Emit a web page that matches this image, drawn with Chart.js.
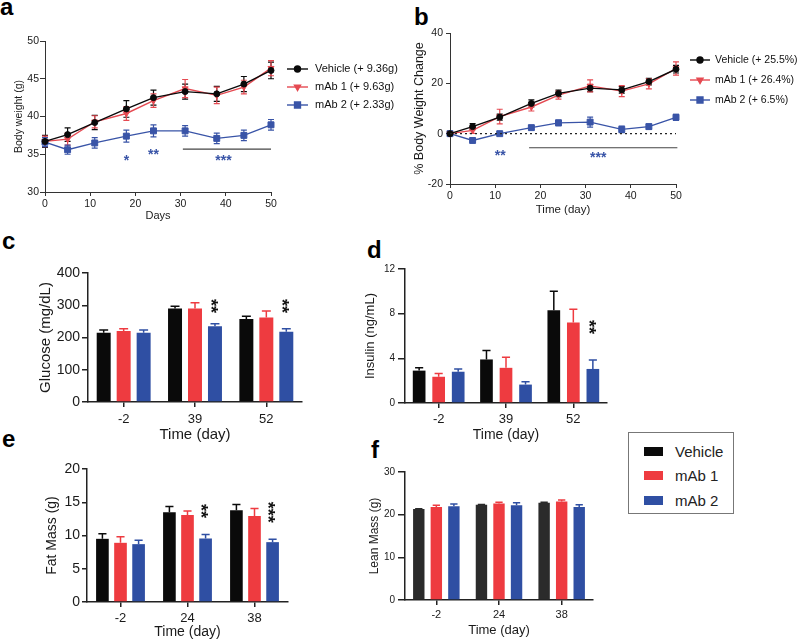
<!DOCTYPE html>
<html>
<head>
<meta charset="utf-8">
<script src="https://cdn.jsdelivr.net/npm/chart.js@4.4.1/dist/chart.umd.min.js"></script>
<style>
  body { margin: 0; background: #fff; width: 800px; height: 642px; position: relative; overflow: hidden;
         font-family: "Liberation Sans", Arial, Helvetica, sans-serif; }
  canvas { position: absolute; }
  .tag { position: absolute; font-weight: bold; font-size: 24px; line-height: 24px; color: #000; }
  #legend { position: absolute; left: 628px; top: 432px; width: 104px; height: 80px; border: 1px solid #777; }
  #legend .row { position: absolute; left: 15px; height: 18px; display: flex; align-items: center; font-size: 15px; color: #222; }
  #legend .sw { width: 19px; height: 9px; margin-right: 12px; }
</style>
</head>
<body>
<div class="tag" style="left:0;top:-5px">a</div>
<div class="tag" style="left:414px;top:5px">b</div>
<div class="tag" style="left:2px;top:229px">c</div>
<div class="tag" style="left:367px;top:238px">d</div>
<div class="tag" style="left:2px;top:427px">e</div>
<div class="tag" style="left:371px;top:438px">f</div>

<canvas id="ca" width="400" height="230" style="left:0;top:0"></canvas>
<canvas id="cb" width="400" height="230" style="left:400px;top:0"></canvas>
<canvas id="cc" width="360" height="215" style="left:0;top:230px"></canvas>
<canvas id="cd" width="260" height="215" style="left:360px;top:230px"></canvas>
<canvas id="ce" width="360" height="202" style="left:0;top:440px"></canvas>
<canvas id="cf" width="260" height="202" style="left:360px;top:440px"></canvas>

<div id="legend">
  <div class="row" style="top:9px"><span class="sw" style="background:#0a0a0a"></span>Vehicle</div>
  <div class="row" style="top:33px"><span class="sw" style="background:#ee3b40"></span>mAb 1</div>
  <div class="row" style="top:58px"><span class="sw" style="background:#2f4fa3"></span>mAb 2</div>
</div>

<script>
const FONT = '"Liberation Sans", Arial, Helvetica, sans-serif';
Chart.defaults.font.family = FONT;
Chart.defaults.color = '#1a1a1a';
Chart.defaults.animation = false;

const BLACK = '#0a0a0a', RED = '#ee3b40', BLUE = '#2f4fa3';
const LRED = '#e54a52', LBLUE = '#3954a7';

// a, b: body weight over time
const days = [0, 5, 11, 18, 24, 31, 38, 44, 50];
const bwVeh     = [36.7, 37.6, 39.2, 41.0, 42.5, 43.3, 43.0, 44.3, 46.1];
const bwVehErr  = [0.8, 0.9, 0.95, 1.1, 1.0, 1.0, 1.0, 1.0, 1.1];
const bwMab1    = [36.7, 37.0, 39.3, 40.4, 42.1, 43.7, 42.8, 43.9, 46.4];
const bwMab1Err = [0.7, 0.8, 0.8, 0.9, 0.9, 1.2, 1.1, 0.9, 1.0];
const bwMab2    = [36.6, 35.6, 36.5, 37.4, 38.1, 38.1, 37.1, 37.5, 38.9];
const bwMab2Err = [0.6, 0.6, 0.7, 0.8, 0.8, 0.7, 0.7, 0.7, 0.7];

const pctVeh     = [0, 2.8, 6.6, 12.0, 16.0, 18.1, 17.4, 20.7, 25.6];
const pctVehErr  = [0, 1.2, 1.2, 1.4, 1.3, 1.4, 1.3, 1.3, 1.5];
const pctMab1    = [0, 1.3, 6.8, 10.6, 15.3, 19.0, 16.9, 19.8, 25.9];
const pctMab1Err = [0, 1.2, 2.9, 1.6, 1.6, 2.4, 2.2, 2.0, 2.6];
const pctMab2    = [0, -2.7, 0, 2.4, 4.3, 4.6, 1.7, 2.8, 6.5];
const pctMab2Err = [0, 0.6, 0.6, 0.8, 1.1, 2.0, 1.3, 1.0, 1.2];

// c, d: glucose / insulin
const bloodDays = ['-2', '39', '52'];
const glucVeh = [215, 290, 257],  glucVehErr = [8, 7, 9];
const glucM1  = [220, 290, 262],  glucM1Err  = [7, 18, 20];
const glucM2  = [215, 235, 218],  glucM2Err  = [8, 8, 9];
const insVeh = [2.9, 3.9, 8.3],   insVehErr = [0.25, 0.8, 1.7];
const insM1  = [2.35, 3.15, 7.2], insM1Err  = [0.3, 0.95, 1.2];
const insM2  = [2.8, 1.65, 3.05], insM2Err  = [0.25, 0.25, 0.8];

// e, f: body composition
const compDays = ['-2', '24', '38'];
const fatVeh = [9.5, 13.5, 13.8],   fatVehErr = [0.75, 0.85, 0.85];
const fatM1  = [8.9, 13.1, 12.95],  fatM1Err  = [0.9, 0.6, 1.1];
const fatM2  = [8.7, 9.55, 9.0],    fatM2Err  = [0.6, 0.6, 0.45];
const leanVeh = [21.3, 22.3, 22.8], leanVehErr = [0.1, 0.1, 0.1];
const leanM1  = [21.8, 22.6, 23.1], leanM1Err  = [0.4, 0.3, 0.35];
const leanM2  = [22.0, 22.2, 21.8], leanM2Err  = [0.5, 0.6, 0.5];

// error bars drawn under the marks (up only for bars)
const errorBars = {
  id: 'errorBars',
  beforeDatasetsDraw(chart) {
    const ctx = chart.ctx;
    chart.data.datasets.forEach((ds, di) => {
      if (!ds.errs) return;
      const meta = chart.getDatasetMeta(di);
      const ys = chart.scales[meta.yAxisID];
      const isBar = meta.type === 'bar';
      ctx.save();
      ctx.strokeStyle = ds.errColor || ds.borderColor;
      ctx.lineWidth = isBar ? 1.5 : 1.2;
      meta.data.forEach((el, i) => {
        const raw = ds.data[i];
        const v = typeof raw === 'object' ? raw.y : raw;
        const e = ds.errs[i];
        if (!e) return;
        const yTop = ys.getPixelForValue(v + e);
        const yBot = isBar ? el.y : ys.getPixelForValue(v - e);
        const cap = isBar ? el.width * 0.32 : 3;
        ctx.beginPath();
        ctx.moveTo(el.x, yBot); ctx.lineTo(el.x, yTop);
        ctx.moveTo(el.x - cap, yTop); ctx.lineTo(el.x + cap, yTop);
        if (!isBar) { ctx.moveTo(el.x - cap, yBot); ctx.lineTo(el.x + cap, yBot); }
        ctx.stroke();
      });
      ctx.restore();
    });
  }
};

// significance lines and stars
function notes(spec) {
  return {
    id: 'notes',
    afterDatasetsDraw(chart) {
      const ctx = chart.ctx, xs = chart.scales.x, ys = chart.scales.y;
      ctx.save();
      (spec.lines || []).forEach(l => {
        ctx.strokeStyle = l.color; ctx.lineWidth = l.width || 1;
        ctx.setLineDash(l.dash || []);
        const py = ys.getPixelForValue(l.y);
        ctx.beginPath();
        ctx.moveTo(xs.getPixelForValue(l.x0), py);
        ctx.lineTo(xs.getPixelForValue(l.x1), py);
        ctx.stroke();
      });
      ctx.setLineDash([]);
      (spec.stars || []).forEach(s => {
        const px = s.ds != null ? chart.getDatasetMeta(s.ds).data[s.i].x : xs.getPixelForValue(s.x);
        const py = ys.getPixelForValue(s.y);
        ctx.save();
        ctx.translate(px, py);
        if (s.rot) ctx.rotate(Math.PI / 2);
        ctx.fillStyle = s.color;
        ctx.font = 'bold ' + s.size + 'px ' + FONT;
        ctx.textAlign = 'center';
        ctx.textBaseline = 'alphabetic';
        ctx.fillText(s.text, 0, s.size * 0.57);
        ctx.restore();
      });
      ctx.restore();
    }
  };
}

function marker(ctx, style, rot, r, x, y) {
  if (Chart.helpers && Chart.helpers.drawPoint) {
    Chart.helpers.drawPoint(ctx, { pointStyle: style, rotation: rot, radius: r, borderWidth: 1 }, x, y);
    return;
  }
  ctx.beginPath(); ctx.arc(x, y, r, 0, Math.PI * 2); ctx.fill();
}

// legend with line + marker, placed right of the plot
function lineLegend(items, o) {
  return {
    id: 'lineLegend',
    afterDraw(chart) {
      const { ctx, chartArea } = chart;
      items.forEach((it, k) => {
        const y = chartArea.top + o.y0 + k * o.dy;
        const x0 = chartArea.right + o.dx;
        ctx.save();
        ctx.strokeStyle = it.color; ctx.fillStyle = it.color; ctx.lineWidth = 1.4;
        ctx.beginPath(); ctx.moveTo(x0, y); ctx.lineTo(x0 + o.len, y); ctx.stroke();
        marker(ctx, it.style, it.rot || 0, it.r, x0 + o.len / 2, y);
        ctx.fillStyle = '#111';
        ctx.font = o.fs + 'px ' + FONT;
        ctx.textBaseline = 'middle';
        ctx.fillText(it.text, x0 + o.tx, y);
        ctx.restore();
      });
    }
  };
}

function axis(o) {
  const a = {
    type: o.type || 'linear',
    border: { color: o.col || '#222', width: o.bw || 1 },
    grid: { drawOnChartArea: false, drawTicks: true, tickLength: o.tl, color: o.col || '#222', lineWidth: o.bw || 1, offset: false },
    ticks: { font: { size: o.fs }, padding: o.pad, maxRotation: 0, autoSkip: false, color: '#1a1a1a' },
    title: { display: true, text: o.title, font: { size: o.tfs }, padding: o.tpad, color: '#1a1a1a' },
    afterFit: s => { if (s.isHorizontal()) s.height = o.box; else s.width = o.box; }
  };
  if (o.min !== undefined) { a.min = o.min; a.max = o.max; }
  if (o.step !== undefined) a.ticks.stepSize = o.step;
  return a;
}

function lineSet(label, vals, errs, color, style, rot, r) {
  return {
    label, errs,
    data: days.map((d, i) => ({ x: d, y: vals[i] })),
    borderColor: color, backgroundColor: color, borderWidth: 1.4,
    pointStyle: style, pointRotation: rot, pointRadius: r,
    pointBorderColor: color, pointBackgroundColor: color, pointBorderWidth: 1,
    tension: 0, clip: false
  };
}

function barSet(label, vals, errs, color) {
  return { label, data: vals, errs, errColor: color, backgroundColor: color, borderWidth: 0 };
}

function lineChart(id, pad, yAx, xAx, sets, extra) {
  return new Chart(document.getElementById(id), {
    type: 'line',
    data: { datasets: sets },
    options: {
      responsive: false, animation: false,
      layout: { padding: pad },
      plugins: { legend: { display: false }, tooltip: { enabled: false } },
      scales: { x: xAx, y: yAx }
    },
    plugins: [errorBars].concat(extra)
  });
}

function barChart(id, pad, labels, yAx, xAx, sets, cp, bp, extra) {
  return new Chart(document.getElementById(id), {
    type: 'bar',
    data: { labels, datasets: sets },
    options: {
      responsive: false, animation: false,
      layout: { padding: pad },
      datasets: { bar: { categoryPercentage: cp, barPercentage: bp } },
      plugins: { legend: { display: false }, tooltip: { enabled: false } },
      scales: { x: xAx, y: yAx }
    },
    plugins: [errorBars].concat(extra)
  });
}

// ---- a
lineChart('ca', { left: 0, top: 41, right: 129, bottom: 0 },
  axis({ min: 30, max: 50, step: 5, fs: 10.5, tl: 5, pad: 1, title: 'Body weight (g)', tfs: 10.5, tpad: { top: 12.7 }, box: 45, col: '#333' }),
  axis({ min: 0, max: 50, step: 10, fs: 10.5, tl: 4, pad: 2, title: 'Days', tfs: 11, tpad: { bottom: 7.4 }, box: 38, col: '#333' }),
  [
    lineSet('Vehicle (+ 9.36g)', bwVeh, bwVehErr, BLACK, 'circle', 0, 3),
    lineSet('mAb 1 (+ 9.63g)', bwMab1, bwMab1Err, LRED, 'triangle', 180, 3.5),
    lineSet('mAb 2 (+ 2.33g)', bwMab2, bwMab2Err, LBLUE, 'rect', 0, 4.2)
  ],
  [
    notes({
      lines: [{ x0: 30.5, x1: 50, y: 35.67, color: '#444', width: 1.2 }],
      stars: [
        { x: 18, y: 34.65, text: '*', color: LBLUE, size: 14 },
        { x: 24, y: 35.45, text: '**', color: LBLUE, size: 14 },
        { x: 39.5, y: 34.65, text: '***', color: LBLUE, size: 14 }
      ]
    }),
    lineLegend([
      { text: 'Vehicle (+ 9.36g)', color: BLACK, style: 'circle', r: 3 },
      { text: 'mAb 1 (+ 9.63g)', color: LRED, style: 'triangle', rot: 180, r: 3.5 },
      { text: 'mAb 2 (+ 2.33g)', color: LBLUE, style: 'rect', r: 4.2 }
    ], { y0: 28, dy: 18, dx: 16, len: 21, tx: 28, fs: 11 })
  ]);

// ---- b
lineChart('cb', { left: 0, top: 33, right: 124, bottom: 0 },
  axis({ min: -20, max: 40, step: 20, fs: 10.5, tl: 4, pad: 3, title: '% Body Weight Change', tfs: 12.5, tpad: { top: 12.2 }, box: 50, col: '#333' }),
  axis({ min: 0, max: 50, step: 10, fs: 10.5, tl: 4, pad: 2, title: 'Time (day)', tfs: 11.5, tpad: { bottom: 13 }, box: 46, col: '#333' }),
  [
    lineSet('Vehicle (+ 25.5%)', pctVeh, pctVehErr, BLACK, 'circle', 0, 3),
    lineSet('mAb 1 (+ 26.4%)', pctMab1, pctMab1Err, LRED, 'triangle', 180, 3.5),
    lineSet('mAb 2 (+ 6.5%)', pctMab2, pctMab2Err, LBLUE, 'rect', 0, 4.2)
  ],
  [
    notes({
      lines: [
        { x0: 0, x1: 50, y: 0, color: '#222', width: 1.3, dash: [2, 3] },
        { x0: 17.5, x1: 50.3, y: -5.6, color: '#444', width: 1.2 }
      ],
      stars: [
        { x: 11.1, y: -7.3, text: '**', color: LBLUE, size: 14 },
        { x: 32.8, y: -8.2, text: '***', color: LBLUE, size: 14 }
      ]
    }),
    lineLegend([
      { text: 'Vehicle (+ 25.5%)', color: BLACK, style: 'circle', r: 3 },
      { text: 'mAb 1 (+ 26.4%)', color: LRED, style: 'triangle', rot: 180, r: 3.5 },
      { text: 'mAb 2 (+ 6.5%)', color: LBLUE, style: 'rect', r: 4.2 }
    ], { y0: 27, dy: 20, dx: 14, len: 20, tx: 25, fs: 10.5 })
  ]);

// ---- c
barChart('cc', { left: 0, top: 43, right: 58, bottom: 0 }, bloodDays,
  axis({ min: 0, max: 400, step: 100, fs: 14, tl: 6, pad: 2, title: 'Glucose (mg/dL)', tfs: 15, tpad: { top: 37 }, box: 88, bw: 1.5 }),
  axis({ type: 'category', fs: 13, tl: 5, pad: 5, title: 'Time (day)', tfs: 15, tpad: { bottom: 1 }, box: 43, bw: 1.5 }),
  [barSet('Vehicle', glucVeh, glucVehErr, BLACK), barSet('mAb 1', glucM1, glucM1Err, RED), barSet('mAb 2', glucM2, glucM2Err, BLUE)],
  0.84, 0.7,
  [notes({ stars: [
    { ds: 2, i: 1, y: 298, text: '**', color: '#111', size: 18, rot: true },
    { ds: 2, i: 2, y: 298, text: '**', color: '#111', size: 18, rot: true }
  ] })]);

// ---- d
barChart('cd', { left: 0, top: 39, right: 13, bottom: 0 }, bloodDays,
  axis({ min: 0, max: 12, step: 4, fs: 10, tl: 7, pad: 3, title: 'Insulin (ng/mL)', tfs: 13, tpad: { top: 2.2 }, box: 45, bw: 1.5 }),
  axis({ type: 'category', fs: 13, tl: 5, pad: 3.5, title: 'Time (day)', tfs: 14, tpad: { bottom: 1.6 }, box: 42, bw: 1.5 }),
  [barSet('Vehicle', insVeh, insVehErr, BLACK), barSet('mAb 1', insM1, insM1Err, RED), barSet('mAb 2', insM2, insM2Err, BLUE)],
  0.87, 0.65,
  [notes({ stars: [
    { ds: 2, i: 2, y: 6.8, text: '**', color: '#111', size: 18, rot: true }
  ] })]);

// ---- e
barChart('ce', { left: 0, top: 29, right: 72, bottom: 0 }, compDays,
  axis({ min: 0, max: 20, step: 5, fs: 14, tl: 5, pad: 2, title: 'Fat Mass (g)', tfs: 14, tpad: { top: 44 }, box: 87, bw: 1.5 }),
  axis({ type: 'category', fs: 13, tl: 5, pad: 3.5, title: 'Time (day)', tfs: 14, tpad: { bottom: 1.6 }, box: 40, bw: 1.5 }),
  [barSet('Vehicle', fatVeh, fatVehErr, BLACK), barSet('mAb 1', fatM1, fatM1Err, RED), barSet('mAb 2', fatM2, fatM2Err, BLUE)],
  0.81, 0.7,
  [notes({ stars: [
    { ds: 2, i: 1, y: 13.7, text: '**', color: '#111', size: 18, rot: true },
    { ds: 2, i: 2, y: 13.5, text: '***', color: '#111', size: 18, rot: true }
  ] })]);

// ---- f
barChart('cf', { left: 0, top: 32, right: 27, bottom: 0 }, compDays,
  axis({ min: 0, max: 30, step: 10, fs: 10, tl: 7, pad: 3, title: 'Lean Mass (g)', tfs: 12, tpad: { top: 7.8 }, box: 45, bw: 1.5 }),
  axis({ type: 'category', fs: 11, tl: 5, pad: 3.5, title: 'Time (day)', tfs: 13, tpad: { bottom: 4.2 }, box: 42, bw: 1.5 }),
  [barSet('Vehicle', leanVeh, leanVehErr, '#2b2b2b'), barSet('mAb 1', leanM1, leanM1Err, RED), barSet('mAb 2', leanM2, leanM2Err, BLUE)],
  0.84, 0.65, []);
</script>
</body>
</html>
